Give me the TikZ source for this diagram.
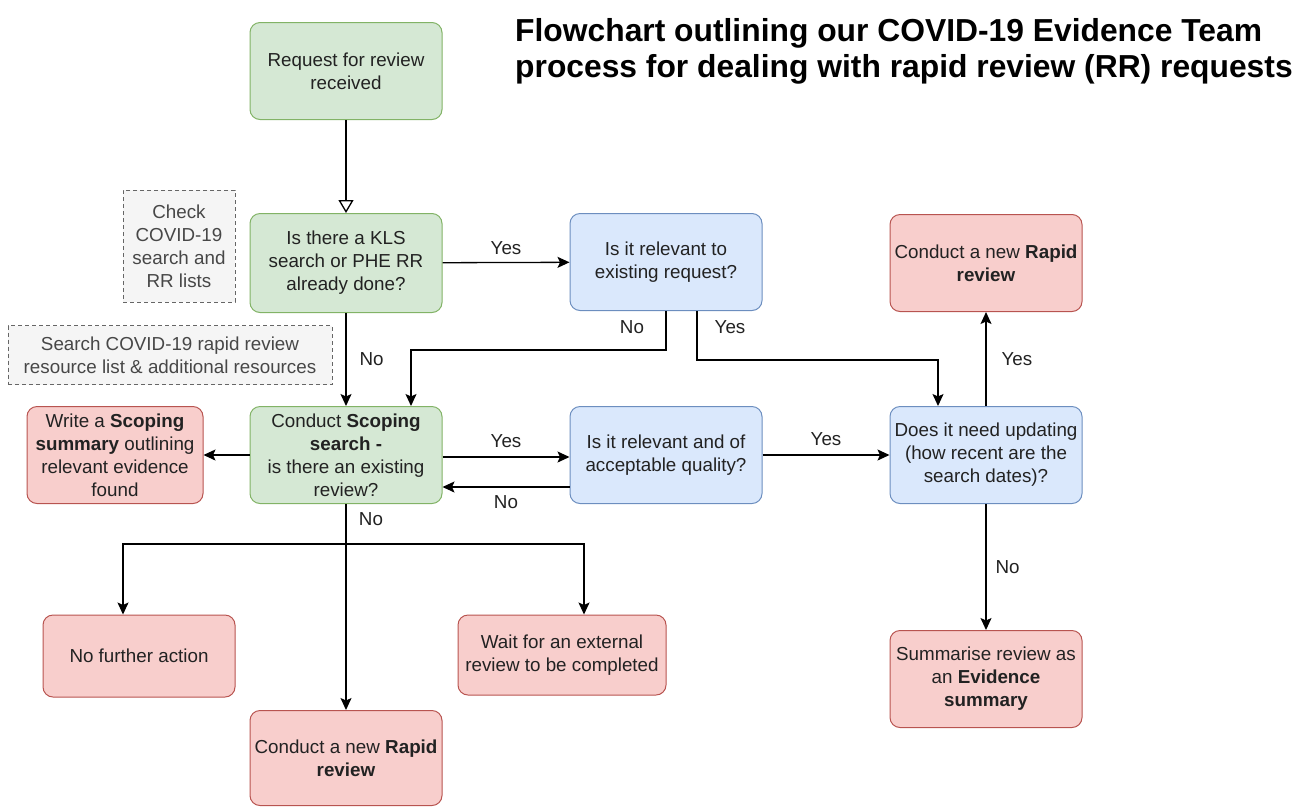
\documentclass[tikz,border=0pt]{standalone}
\usepackage{fontspec}
\setmainfont{Liberation Sans}
\usetikzlibrary{arrows.meta}
\definecolor{gfill}{HTML}{D5E8D4}\definecolor{gline}{HTML}{82B366}
\definecolor{bfill}{HTML}{DAE8FC}\definecolor{bline}{HTML}{6C8EBF}
\definecolor{rfill}{HTML}{F8CECC}\definecolor{rline}{HTML}{B85450}
\definecolor{nfill}{HTML}{F5F5F5}\definecolor{nline}{HTML}{666666}
\definecolor{txt}{HTML}{222222}
\tikzset{
  box/.style={rounded corners=10pt, line width=1pt, align=center, inner sep=1pt,
    font=\fontsize{18.8}{23}\selectfont, text=txt, minimum width=192pt, minimum height=97pt},
  gbox/.style={box, fill=gfill, draw=gline},
  bbox/.style={box, fill=bfill, draw=bline},
  rbox/.style={box, fill=rfill, draw=rline},
  nbox/.style={align=center, inner sep=1pt, fill=nfill, draw=nline, line width=1pt,
    dash pattern=on 4pt off 3pt, font=\fontsize{18.8}{23}\selectfont, text=nline!70!black},
  conn/.style={line width=1.3pt, -{Stealth[length=12pt,width=11pt,inset=2.5pt]}},
  plain/.style={line width=1.3pt},
  lbl/.style={font=\fontsize{18.8}{20}\selectfont, text=txt, inner sep=1pt},
}
\begin{document}
\begin{tikzpicture}[x=1pt,y=-1pt]
\useasboundingbox (0,0) rectangle (1308,807);
% title
\node[anchor=north west, align=left, font=\fontsize{31.8}{36}\selectfont\bfseries, inner sep=0pt] (title) at (515,18)
  {Flowchart outlining our COVID-19 Evidence Team\\process for dealing with rapid review (RR) requests};
% nodes
\node[gbox] (req) at (346,71) {Request for review\\received};
\node[gbox, minimum height=99pt] (kls) at (346,263) {Is there a KLS\\search or PHE RR\\already done?};
\node[nbox, minimum width=112pt, minimum height=112pt] (chk) at (179,246) {Check\\COVID-19\\search and\\RR lists};
\node[nbox, minimum width=324pt, minimum height=59pt] (srch) at (170,355) {Search COVID-19 rapid review\\resource list \& additional resources};
\node[bbox] (rel1) at (666,262) {Is it relevant to\\existing request?};
\node[rbox] (rrtop) at (986,263) {Conduct a new \textbf{Rapid}\\\textbf{review}};
\node[gbox] (scope) at (346,455) {Conduct \textbf{Scoping}\\\textbf{search -}\\is there an existing\\review?};
\node[rbox, minimum width=176pt] (wss) at (115,455) {Write a \textbf{Scoping}\\\textbf{summary} outlining\\relevant evidence\\found};
\node[bbox] (rel2) at (666,455) {Is it relevant and of\\acceptable quality?};
\node[bbox] (upd) at (986,455) {Does it need updating\\(how recent are the\\search dates)?};
\node[rbox, minimum height=82pt] (nfa) at (139,656) {No further action};
\node[rbox, minimum width=208pt, minimum height=80pt] (wait) at (562,655) {Wait for an external\\review to be completed};
\node[rbox, minimum height=95pt] (rrbot) at (346,758) {Conduct a new \textbf{Rapid}\\\textbf{review}};
\node[rbox] (summ) at (986,679) {Summarise review as\\an \textbf{Evidence}\\\textbf{summary}};
% connectors
\draw[line width=1.3pt, -{Triangle[open,length=13pt,width=15pt]}] (req) -- (kls);
\draw[conn] (kls) -- (rel1) node[lbl, midway, above=6pt] (l1) {Yes};
\draw[conn] (kls) -- (scope) node[lbl, midway, right=12pt] (l2) {No};
\draw[conn] (rel1.south) -- ++(0,39) coordinate (c1) -| ([xshift=65pt]scope.north);
\node[lbl] (l3) at (632,327) {No};
\draw[conn] ([xshift=31pt]rel1.south) -- ++(0,49) coordinate (c2) -| ([xshift=-48pt]upd.north);
\node[lbl] (l4) at (730,327) {Yes};
\draw[conn] ([yshift=-2pt]scope.east) -- ([yshift=-2pt]rel2.west) node[lbl, midway, above=8pt] (l5) {Yes};
\draw[conn] ([yshift=-32pt]rel2.west) -- ([yshift=-32pt]scope.east) node[lbl, midway, below=7pt] (l6) {No};
\draw[conn] (rel2) -- (upd) node[lbl, midway, above=8pt] (l7) {Yes};
\draw[conn] (upd) -- (rrtop) node[lbl, midway, right=14pt] (l8) {Yes};
\draw[conn] (upd) -- (summ) node[lbl, midway, right=8pt] (l9) {No};
\draw[conn] (scope) -- (wss);
\draw[plain] (scope.south) -- ++(0,40) coordinate (br);
\node[lbl] (l10) at (371,519) {No};
\draw[conn] (br) -| ([xshift=-16pt]nfa.north);
\draw[conn] (br) -| ([xshift=22pt]wait.north);
\draw[conn] (scope.south) -- (rrbot.north);
\end{tikzpicture}
\end{document}
